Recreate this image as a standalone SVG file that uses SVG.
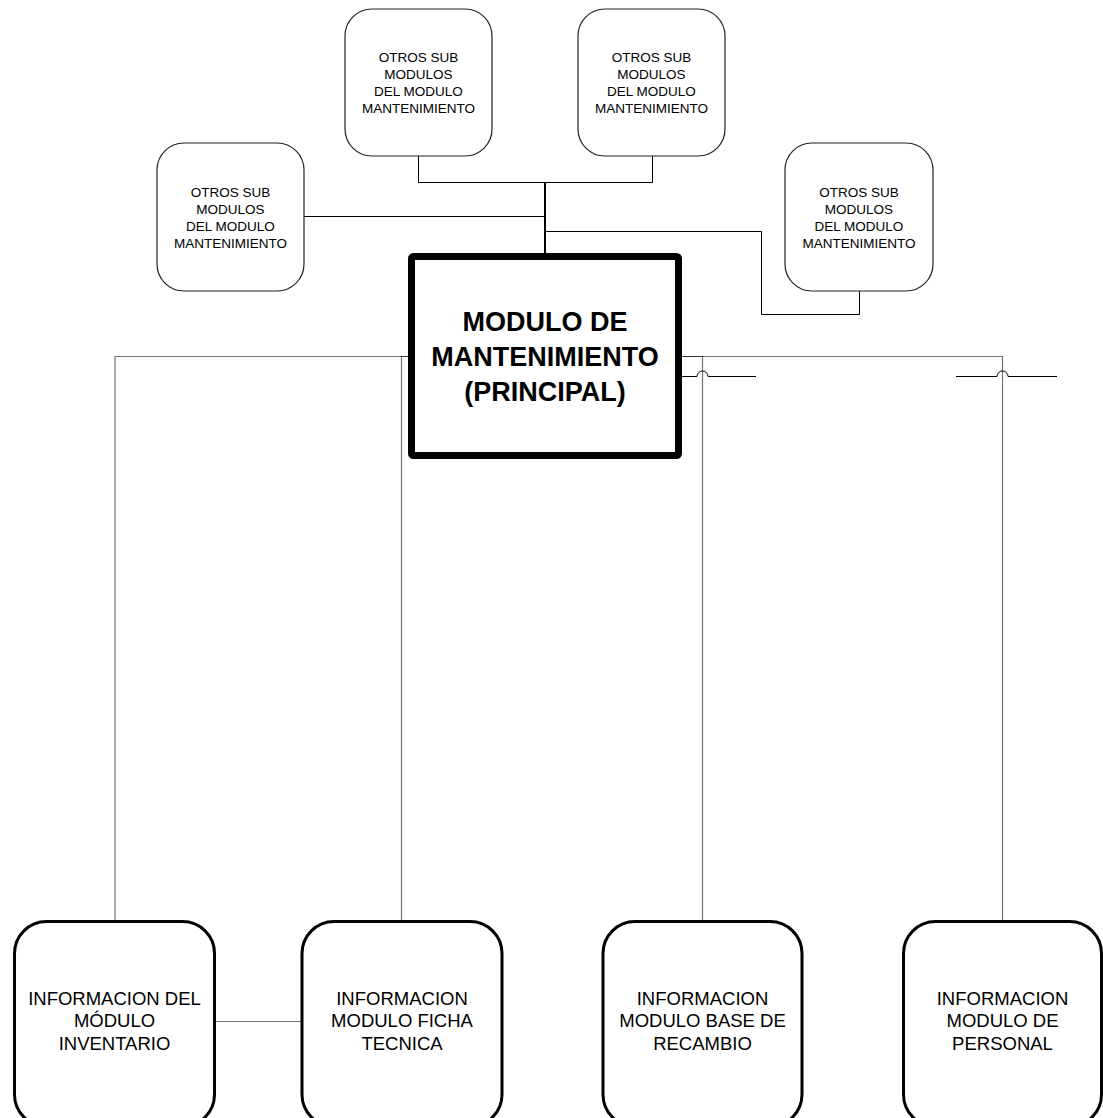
<svg xmlns="http://www.w3.org/2000/svg" width="1103" height="1118" viewBox="0 0 1103 1118">
<style>
.sub{fill:#fff;stroke:#222;stroke-width:1.2}
.info{fill:#fff;stroke:#000;stroke-width:3}
.main{fill:#fff;stroke:#000;stroke-width:7}
.t13{font-family:"Liberation Sans",Arial,sans-serif;font-size:13.5px;fill:#000;text-anchor:middle}
.t18{font-family:"Liberation Sans",Arial,sans-serif;font-size:18.5px;fill:#000;text-anchor:middle}
.tb{font-family:"Liberation Sans",Arial,sans-serif;font-size:27px;font-weight:bold;fill:#000;text-anchor:middle}
.c{fill:none;stroke:#000;stroke-width:1}
.cg{fill:none;stroke:#000;stroke-opacity:0.55;stroke-width:1.2}
</style>
<rect width="1103" height="1118" fill="#fff"/>
<g id="connectors">
<path class="c" d="M418.5,156 V182.5 H652.5 V156"/>
<path class="c" d="M545,182 V253" style="stroke-width:2"/>
<path class="c" d="M304,216.5 H545"/>
<path class="c" d="M545,231.5 H761.5 V314.5 H859.5 V291"/>
<path class="cg" d="M115,920 V356.5 H408"/>
<path class="cg" d="M401.5,920 V356.5 H408"/>
<path class="cg" d="M702.5,920 V356.5 H682"/>
<path class="cg" d="M1002.5,920 V356.5 H682"/>
<path class="c" d="M655,376.5 H697 A5.5,5.5 0 0 1 708,376.5 H756"/>
<path class="c" d="M956,376.5 H997 A5.5,5.5 0 0 1 1008,376.5 H1057"/>
</g>
<g id="sub-a">
<rect class="sub" x="345" y="9" width="147" height="147" rx="27"/>
<text class="t13"><tspan x="418.5" y="62">OTROS SUB</tspan><tspan x="418.5" y="79">MODULOS</tspan><tspan x="418.5" y="96">DEL MODULO</tspan><tspan x="418.5" y="113">MANTENIMIENTO</tspan></text>
</g>
<g id="sub-b">
<rect class="sub" x="578" y="9" width="147" height="147" rx="27"/>
<text class="t13"><tspan x="651.5" y="62">OTROS SUB</tspan><tspan x="651.5" y="79">MODULOS</tspan><tspan x="651.5" y="96">DEL MODULO</tspan><tspan x="651.5" y="113">MANTENIMIENTO</tspan></text>
</g>
<g id="sub-c">
<rect class="sub" x="157" y="143" width="147" height="148" rx="27"/>
<text class="t13"><tspan x="230.5" y="197">OTROS SUB</tspan><tspan x="230.5" y="214">MODULOS</tspan><tspan x="230.5" y="231">DEL MODULO</tspan><tspan x="230.5" y="248">MANTENIMIENTO</tspan></text>
</g>
<g id="sub-d">
<rect class="sub" x="785" y="143" width="148" height="148" rx="27"/>
<text class="t13"><tspan x="859" y="197">OTROS SUB</tspan><tspan x="859" y="214">MODULOS</tspan><tspan x="859" y="231">DEL MODULO</tspan><tspan x="859" y="248">MANTENIMIENTO</tspan></text>
</g>
<g id="main">
<rect class="main" x="411.5" y="256.5" width="267" height="199" rx="2"/>
<text class="tb"><tspan x="545" y="331">MODULO DE</tspan><tspan x="545" y="366">MANTENIMIENTO</tspan><tspan x="545" y="401">(PRINCIPAL)</tspan></text>
</g>
<g id="inventario">
<rect class="info" x="14.5" y="921.5" width="200" height="205" rx="32"/>
<text class="t18"><tspan x="114.5" y="1005">INFORMACION DEL</tspan><tspan x="114.5" y="1027">MÓDULO</tspan><tspan x="114.5" y="1050">INVENTARIO</tspan></text>
</g>
<g id="ficha">
<rect class="info" x="302" y="921.5" width="200" height="205" rx="32"/>
<text class="t18"><tspan x="402" y="1005">INFORMACION</tspan><tspan x="402" y="1027">MODULO FICHA</tspan><tspan x="402" y="1050">TECNICA</tspan></text>
</g>
<g id="recambio">
<rect class="info" x="603" y="921.5" width="199" height="205" rx="32"/>
<text class="t18"><tspan x="702.5" y="1005">INFORMACION</tspan><tspan x="702.5" y="1027">MODULO BASE DE</tspan><tspan x="702.5" y="1050">RECAMBIO</tspan></text>
</g>
<g id="personal">
<rect class="info" x="903.5" y="921.5" width="198" height="205" rx="32"/>
<text class="t18"><tspan x="1002.5" y="1005">INFORMACION</tspan><tspan x="1002.5" y="1027">MODULO DE</tspan><tspan x="1002.5" y="1050">PERSONAL</tspan></text>
</g>
<g id="connectors-bottom">
<path class="cg" d="M214.5,1021.5 H302"/>
</g>
</svg>
